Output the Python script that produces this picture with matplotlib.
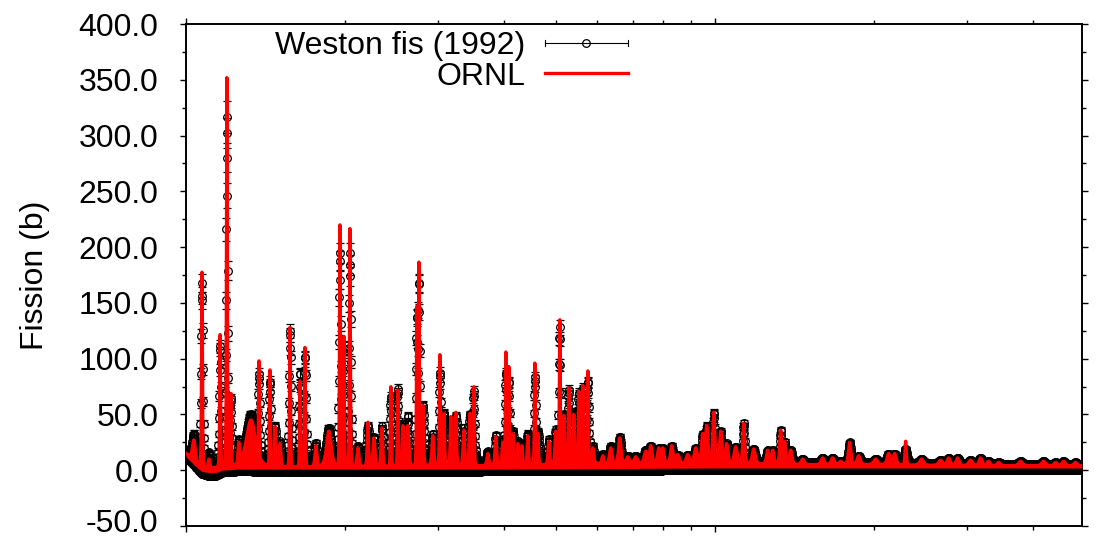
import numpy as np
import matplotlib
matplotlib.use("Agg")
import matplotlib.pyplot as plt
from matplotlib.legend_handler import HandlerBase
from matplotlib.lines import Line2D
from matplotlib.ticker import MultipleLocator, NullFormatter, LogLocator
from matplotlib.transforms import ScaledTranslation

plt.rcParams['font.family'] = ['Liberation Sans', 'DejaVu Sans']

# ---- resonance data (energy eV, peak heights b, relative half width)
res_E = [103.5, 107.2, 110.5, 116.0, 119.5, 121.6, 125.9, 132.7, 137.4, 144.1,
         147.3, 150.6, 157.3, 164.3, 167.9, 176.1, 186.3, 195.5, 198.9, 204.2,
         211.4, 220.8, 226.7, 234.7, 244.1, 251.6, 257.2, 262.8, 273.3, 275.7,
         280.6, 293.0, 302.1, 307.4, 316.9, 323.9, 335.4, 344.2, 350.3, 372.3,
         385.5, 397.4, 402.6, 407.9, 415.1, 424.2, 431.7, 443.1, 456.8, 462.8,
         485.5, 500.5, 509.3, 518.3, 529.7, 541.3, 553.3, 563.0, 575.4, 588.0,
         614.2, 635.9, 661.3, 684.8, 709.0, 740.6, 756.9, 783.7, 797.4, 829.3,
         851.3, 889.1, 920.6, 949.1, 965.8, 995.7, 1026.5, 1053.6, 1095.7, 1134.6,
         1185.0, 1259.5, 1287.2, 1332.8, 1356.2, 1392.1, 1466.8, 1532.0, 1600.2, 1671.3,
         1730.6, 1799.7, 1871.6, 2015.3, 2132.7, 2189.1, 2296.5, 2462.2, 2674.4, 2769.2,
         2879.8, 3047.5, 3183.0, 3295.8, 3442.5, 3788.5, 4187.4, 4412.0, 4568.3, 4813.2]

ornl_peak = [27, 178, 10, 122, 352, 69, 25, 45, 98, 90,
             39, 24, 128, 80, 110, 22, 35, 220, 120, 217,
             20, 43, 29, 38, 75, 72, 40, 40, 147, 187,
             58, 31, 104, 51, 48, 52, 36, 51, 75, 15,
             30, 25, 106, 93, 33, 24, 22, 31, 96, 33,
             26, 35, 135, 49, 74, 50, 71, 76, 89, 20,
             13, 20, 29, 12, 12, 17, 22, 20, 20, 22,
             14, 14, 20, 33, 40, 52, 35, 24, 21, 42,
             19, 18, 18, 36, 26, 18, 10, 5, 11, 11,
             8, 25, 13, 10, 15, 15, 26, 10, 9, 11,
             11, 9, 11, 8, 7, 8, 8, 7, 8, 7]

weston_peak = [33, 168, 16, 112, 318, 65, 28, 50, 87, 80,
               40, 26, 126, 88, 103, 25, 38, 196, 110, 195,
               22, 40, 30, 40, 66, 73, 42, 49, 140, 171,
               58, 33, 88, 51, 45, 49, 38, 50, 71, 17,
               32, 28, 88, 80, 35, 26, 24, 33, 84, 35,
               28, 37, 128, 50, 72, 52, 70, 74, 80, 22,
               15, 22, 30, 13, 13, 18, 22, 20, 20, 22,
               14, 14, 20, 33, 40, 52, 35, 24, 21, 42,
               19, 18, 18, 36, 26, 18, 10, 6, 11, 11,
               8, 25, 13, 10, 15, 15, 19, 10, 9, 11,
               11, 9, 11, 8, 7, 8, 8, 7, 8, 7]

res_width = [0.009, 0.0026, 0.006, 0.0026, 0.0026, 0.0026, 0.006, 0.03, 0.0026, 0.0026,
             0.004, 0.005, 0.0026, 0.0026, 0.0026, 0.006, 0.015, 0.0026, 0.0026, 0.0026,
             0.006, 0.004, 0.006, 0.005, 0.0026, 0.0026, 0.004, 0.006, 0.0026, 0.0026,
             0.004, 0.006, 0.0026, 0.004, 0.004, 0.004, 0.005, 0.004, 0.0026, 0.006,
             0.005, 0.005, 0.0026, 0.0026, 0.004, 0.004, 0.004, 0.004, 0.0026, 0.004,
             0.005, 0.005, 0.0026, 0.004, 0.003, 0.004, 0.003, 0.003, 0.003, 0.006,
             0.006, 0.008, 0.008, 0.01, 0.01, 0.01, 0.008, 0.008, 0.008, 0.008,
             0.01, 0.01, 0.01, 0.008, 0.008, 0.006, 0.008, 0.008, 0.01, 0.006,
             0.01, 0.008, 0.008, 0.006, 0.006, 0.008, 0.01, 0.01, 0.01, 0.01,
             0.01, 0.008, 0.01, 0.012, 0.01, 0.01, 0.004, 0.012, 0.012, 0.01,
             0.01, 0.012, 0.01, 0.01, 0.01, 0.012, 0.012, 0.01, 0.01, 0.01]

# smooth background level between resonances
base_E = [100, 103, 106, 110, 115, 120, 150, 200, 300, 400, 600, 1000, 1500, 2000, 3000, 5000]
ornl_base = [15, 10, 3, 1, 3, 3, 3, 3, 4, 4, 6, 6, 5, 5, 4, 4]
weston_base = [18, 15, 7, 1, 4, 6, 7, 7, 8, 8, 9, 8, 7, 7, 6, 5]

# lowest values reached by the dense unresolved structure
floor_E = [100, 104, 107, 110, 114, 117, 125, 200, 400, 1000, 5000]
weston_floor = [12, 4, -3, -5, -5, -2, -1, -2, -1, 0, 0]
ornl_floor = [12, 4, -1, -2, -2, 0, 1, 1, 1, 2, 2]

y_ticks = [-50, 0, 50, 100, 150, 200, 250, 300, 350, 400]
x_range = (100, 4950)

series_names = ['Weston fis (1992)', 'ORNL']

FS = 23


def on_log(E, xs, ys):
    return np.interp(np.log(E), np.log(xs), ys)


def cross_section(E, heights, widths, base_vals):
    base = on_log(E, base_E, base_vals)
    y = base.copy()
    for e0, h, w in zip(res_E, heights, widths):
        g = w * e0
        b0 = on_log(e0, base_E, base_vals)
        shape = 1.0 / (1.0 + ((E - e0) / g) ** 2) ** 2
        y = np.maximum(y, base + (h - b0) * shape)
    return y


rw = np.array(res_width)
weston_width = np.where(rw < 0.005, rw * 2.2, rw)

E_o = np.geomspace(x_range[0], x_range[1], 14000)
y_o = cross_section(E_o, ornl_peak, rw * 1.2, ornl_base)
f_o = on_log(E_o, floor_E, ornl_floor)

E_w = np.geomspace(x_range[0], x_range[1], 2700)
y_w = cross_section(E_w, weston_peak, weston_width * 1.2, weston_base)
E_f = np.geomspace(x_range[0], x_range[1], 1200)
y_f = on_log(E_f, floor_E, weston_floor)

Ew_all = np.concatenate([E_w, E_f])
yw_all = np.concatenate([y_w, y_f])
err_all = 0.04 * np.abs(yw_all) + 1.5

W, H = 1097, 538
fig = plt.figure(figsize=(W / 100, H / 100), dpi=100)
ax = fig.add_axes([186 / W, 1 - 526 / H, (1082 - 186) / W, (526 - 24) / H])

ax.errorbar(Ew_all, yw_all, yerr=err_all, fmt='o', ms=5.5, mfc='none', mec='black',
            mew=0.9, ecolor='black', elinewidth=0.8, capsize=3, capthick=0.8, zorder=2)
ax.fill_between(E_o, f_o, y_o, color='red', lw=0, zorder=3)
ax.plot(E_o, y_o, color='red', lw=2.4, zorder=4)

ax.set_xscale('log')
ax.set_xlim(*x_range)
ax.set_ylim(y_ticks[0], y_ticks[-1])
ax.set_yticks(y_ticks)
ax.set_yticklabels([f'{v:.1f}' for v in y_ticks])
ax.yaxis.set_minor_locator(MultipleLocator(25))
ax.xaxis.set_major_locator(LogLocator(base=10, numticks=10))
ax.xaxis.set_minor_locator(LogLocator(base=10, subs=np.arange(2, 10), numticks=20))
ax.xaxis.set_minor_formatter(NullFormatter())

ax.tick_params(which='both', direction='out', top=True, right=True, width=1.0,
               labelbottom=False, labelsize=FS, pad=15.5)
ax.tick_params(which='major', length=4.3)
ax.tick_params(which='minor', length=2.6)
for s in ax.spines.values():
    s.set_linewidth(1.4)

# keep the lowest tick label inside the canvas
low_tick = ax.yaxis.get_major_ticks()[0]
low_tick.label1.set_transform(low_tick.label1.get_transform()
                              + ScaledTranslation(0, 4 / 72, fig.dpi_scale_trans))

ax.set_ylabel('Fission (b)', fontsize=FS)
ax.yaxis.set_label_coords(-0.152, 0.5)


class ErrHandler(HandlerBase):
    def create_artists(self, legend, orig_handle, xdescent, ydescent, width, height, fontsize, trans):
        y = (height - ydescent) / 2.0
        x0, x1 = -xdescent, -xdescent + width
        c = 0.12 * height
        arts = [Line2D([x0, x1], [y, y], color='black', lw=0.8),
                Line2D([x0, x0], [y - c, y + c], color='black', lw=0.8),
                Line2D([x1, x1], [y - c, y + c], color='black', lw=0.8),
                Line2D([(x0 + x1) / 2], [y], marker='o', ms=5.5, mfc='none', mec='black', mew=0.9, lw=0)]
        for a in arts:
            a.set_transform(trans)
        return arts


proxy_w = Line2D([], [], color='black')
proxy_o = Line2D([], [], color='red', lw=2.4)
ax.legend([proxy_w, proxy_o], series_names, handler_map={proxy_w: ErrHandler()},
          loc='upper right', bbox_to_anchor=(628 / W, 1 - 31 / H), bbox_transform=fig.transFigure,
          frameon=False, markerfirst=False, handlelength=2.6, handletextpad=0.62,
          labelspacing=0.02, borderpad=0, borderaxespad=0, fontsize=FS)

fig.savefig('out.png', dpi=100)
